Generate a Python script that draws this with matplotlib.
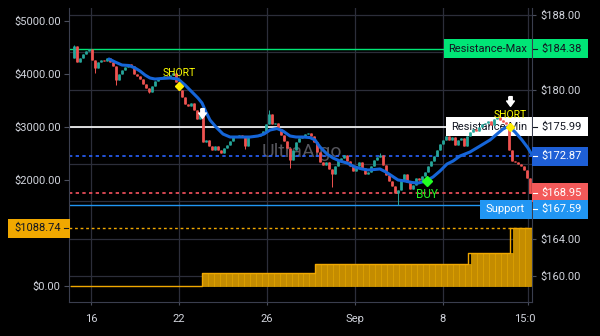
import numpy as np
import matplotlib
matplotlib.use('Agg')
import matplotlib.pyplot as plt
from matplotlib.patches import Rectangle
from matplotlib.lines import Line2D
from matplotlib.transforms import Bbox, TransformedBbox

plt.rcParams['font.family'] = ['Roboto', 'DejaVu Sans']

# closing price of every bar (open = previous close)
close = [183.39, 184.67, 182.96, 183.39, 183.82, 184.14, 184.35, 183.17, 182.31, 182.96,
         183.17, 183.06, 183.39, 182.96, 182.53, 181.03, 181.67, 182.10, 182.42, 182.74,
         182.53, 181.67, 181.45, 181.13, 180.60, 180.17, 179.74, 180.38, 180.92, 181.24,
         181.35, 181.45, 181.24, 181.56, 181.78, 180.81, 179.95, 179.20, 178.45, 178.24,
         178.56, 177.81, 176.84, 177.27, 174.37, 174.59, 173.94, 173.52, 173.94, 173.52,
         173.19, 173.73, 174.05, 174.48, 174.91, 175.02, 175.12, 174.91, 173.94, 174.91,
         175.02, 175.12, 175.02, 175.23, 175.55, 176.30, 177.38, 176.30, 176.41, 175.77,
         175.12, 174.48, 173.73, 172.44, 173.52, 174.37, 174.80, 175.02, 175.23, 175.34,
         175.02, 174.37, 173.30, 172.23, 171.91, 172.23, 171.48, 170.94, 171.80, 172.44,
         172.66, 172.98, 172.33, 171.80, 171.26, 171.80, 172.23, 171.58, 170.94, 171.15,
         171.80, 172.44, 172.76, 172.98, 171.91, 170.83, 170.19, 169.65, 168.90, 169.22,
         170.30, 170.94, 170.08, 169.33, 169.76, 170.51, 170.30, 170.73, 171.15, 171.80,
         172.33, 172.87, 173.52, 174.16, 174.59, 175.02, 174.59, 174.91, 174.05, 174.59,
         174.80, 173.94, 175.02, 175.45, 175.77, 175.55, 175.98, 176.30, 176.41, 176.63,
         176.20, 176.84, 177.06, 176.73, 176.52, 176.30, 173.52, 172.33, 172.23, 172.01,
         171.80, 171.37, 170.51, 168.95]

# wicks that reach past the body
wick_hi = {1: 184.78, 66: 177.81, 103: 173.19}
wick_lo = {8: 181.78, 15: 180.49, 26: 179.63, 58: 173.62, 73: 171.58, 87: 169.54, 109: 167.59}

# moving average (bar index, price)
ma_idx = [12.67, 14.67, 17, 19.33, 21.33, 23, 24.67, 26.33, 28, 30.33,
          33, 35.67, 38, 40.33, 42.33, 43.67, 45, 46.33, 48.33, 50.67,
          53, 56.33, 59.67, 62.33, 64.33, 66.33, 68.67, 70.67, 73, 75,
          77.33, 79.67, 81.33, 83, 85.33, 87.33, 89.67, 92, 94.67, 97,
          99, 101, 103, 105, 107, 109, 111.33, 113.67, 115.67, 118.33,
          120.67, 123, 125.33, 127.33, 129.67, 133, 136.33, 139.67, 142, 144,
          145.33, 146.33, 148, 150.33, 152.33, 153.67]
ma_val = [183.28, 182.96, 182.63, 182.58, 182.31, 181.99, 181.56, 181.24, 181.13, 181.19,
          181.24, 181.13, 180.49, 179.74, 179.09, 178.56, 177.59, 176.73, 175.98, 175.23,
          174.91, 174.91, 174.91, 175.02, 175.23, 175.66, 175.82, 175.55, 175.02, 174.91,
          174.91, 174.85, 174.59, 173.84, 173.09, 172.66, 172.33, 172.12, 171.69, 171.48,
          171.37, 171.42, 171.48, 171.15, 170.73, 170.30, 170.19, 170.03, 169.97, 170.19,
          170.62, 171.26, 172.01, 172.33, 172.87, 173.30, 173.94, 174.59, 175.23, 175.77,
          175.98, 175.93, 175.45, 174.59, 173.73, 172.98]

# closed trades: bar of exit and profit
trade_exit = [43, 81, 132, 146]
trade_pnl = [245.0, 175.0, 208.0, 460.74]

# signals
short_idx = [36, 146.33]
short_mark = [180.38, 175.98]
short_text = [181.78, 177.27]
exit_idx = [43.67, 146.33]
exit_y = [177.48, 178.77]
buy_idx = [118.67]
buy_mark = [170.19]
buy_text = [168.69]

res_max = 184.38
res_min = 175.99
ma_last = 172.87
last_price = 168.95
support = 167.59
equity_now = 1088.74

price_ticks = [160, 164, 168, 172, 176, 180, 184, 188]
price_shown = [160, 164, 180, 188]
equity_ticks = [0, 1000, 2000, 3000, 4000, 5000]
equity_shown = [0, 2000, 3000, 4000, 5000]
tick_pos = [6.67, 36, 65.33, 94.67, 124, 152.33]
tick_lab = ['16', '22', '26', 'Sep', '8', '15:00']

close = np.array(close)
N = len(close)
idx = np.arange(N)
opn = np.concatenate([[close[0]], close[:-1]])
hi = np.maximum(opn, close)
lo = np.minimum(opn, close)
for k, v in wick_hi.items():
    hi[k] = v
for k, v in wick_lo.items():
    lo[k] = v

equity = np.zeros(N)
for e, total in zip(trade_exit, np.cumsum(trade_pnl)):
    equity[e + 1:] = total

TXT = '#d1d4dc'
GRID = '#2c2e3a'
DARK = '#131722'
FS = 8

fig = plt.figure(figsize=(6, 3.36), dpi=100, facecolor='black')
ax_p = fig.add_axes([69 / 600, 34 / 336, 463 / 600, 294 / 336], facecolor='black')
ax_eq = ax_p.twinx()
ax_p.yaxis.tick_right()
ax_eq.yaxis.tick_left()

ax_p.set_xlim(-0.67, 153.67)
ax_p.set_ylim(157.21, 188.75)
ax_eq.set_ylim(-302, 5245)

# grid + axes styling
ax_p.set_axisbelow(True)
ax_p.grid(True, color=GRID, lw=0.9)
for s in ['left', 'right', 'bottom']:
    ax_p.spines[s].set_color('#3a3e4e')
ax_p.spines['top'].set_visible(False)
for s in ax_eq.spines.values():
    s.set_visible(False)

ax_p.set_yticks(price_ticks)
ax_p.set_yticklabels(['${:.2f}'.format(v) if v in price_shown else '' for v in price_ticks])
ax_eq.set_yticks(equity_ticks)
ax_eq.set_yticklabels(['${:.2f}'.format(v) if v in equity_shown else '' for v in equity_ticks])
ax_p.set_xticks(tick_pos)
ax_p.set_xticklabels(tick_lab)
ax_p.tick_params(axis='y', colors='#4a4e5c', labelcolor=TXT, labelsize=FS, length=3, pad=3)
ax_eq.tick_params(axis='y', colors='#4a4e5c', labelcolor=TXT, labelsize=FS, length=3.5, pad=2.5)
ax_p.tick_params(axis='x', colors='#4a4e5c', labelcolor=TXT, labelsize=FS, length=2.5, pad=6)
last_lbl = ax_p.get_xticklabels()[-1]
last_lbl.set_clip_box(TransformedBbox(Bbox([[0, 0], [535 / 600, 1]]), fig.transFigure))
last_lbl.set_clip_on(True)

ax_p.text(0.503, 0.51, 'UltraAlgo', transform=ax_p.transAxes, ha='center', va='center',
          fontsize=14, color='#55555c', zorder=0.8)

# level lines
ax_p.axhline(res_max, color='#00e676', lw=1.0, zorder=1.5)
ax_p.axhline(res_min, color='white', lw=1.2, zorder=1.5)
ax_p.axhline(ma_last, color='#2962ff', lw=1.2, ls=(0, (2, 2)), zorder=1.5)
ax_p.axhline(last_price, color='#f7525f', lw=1.2, ls=(0, (2, 2)), zorder=1.5)
ax_p.axhline(support, color='#2196f3', lw=1.0, zorder=1.5)
ax_eq.axhline(equity_now, color='#f0a800', lw=1.0, ls=(0, (2, 2)), zorder=1.5)

# candles
up = close >= opn
cols = np.where(up, '#26a69a', '#ef5350')
ax_p.vlines(idx, lo, hi, colors=cols, lw=0.7, zorder=2)
ax_p.vlines(idx, opn, close, colors=cols, lw=2.0, zorder=2)

ax_p.plot(ma_idx, ma_val, color='#1565d8', lw=2.2, zorder=3, solid_capstyle='round')

# equity bars
ax_eq.bar(idx[::2] + 0.5, equity[::2], width=2, color='#c48c00', edgecolor='#e3a600',
          lw=0.5, zorder=2)
ax_eq.step(idx, equity, where='mid', color='#f0a800', lw=1.0, zorder=2)

# signals
arrow = [(-0.35, 1), (0.35, 1), (0.35, 0.1), (0.8, 0.1), (0, -1), (-0.8, 0.1), (-0.35, 0.1), (-0.35, 1)]
ax_p.plot(exit_idx, exit_y, ls='none', marker=arrow, ms=7, color='white', zorder=4)
ax_p.plot(short_idx, short_mark, ls='none', marker='D', ms=4.5, color='#ffee00', zorder=4)
for x, y in zip(short_idx, short_text):
    ax_p.text(x, y, 'SHORT', color='#ffff00', fontsize=7.5, ha='center', va='center', zorder=4)
ax_p.plot(buy_idx, buy_mark, ls='none', marker='D', ms=5, color='#22ff22', zorder=4)
for x, y in zip(buy_idx, buy_text):
    ax_p.text(x, y, 'BUY', color='#22ee22', fontsize=8.5, ha='center', va='center', zorder=4)


# value tags on the axes
def ypix(ax, v):
    return ax.transData.transform((0, v))[1]


def tag(x0, x1, yc, face, tcolor, label=None, label_x=None, value=None, value_x=541,
        value_ha='left', dash_x=533):
    h = 19
    y0 = (yc - h / 2) / 336
    if label is not None:
        # inner part sits under the series
        ax_p.add_artist(Rectangle((x0 / 600, y0), (532 - x0) / 600, h / 336, transform=fig.transFigure,
                                  facecolor=face, edgecolor='none', zorder=1.8, clip_on=False))
        ax_p.text(label_x / 600, yc / 336, label, transform=fig.transFigure, color=tcolor,
                  ha='center', va='center', fontsize=FS, zorder=1.9, clip_on=False)
        x0 = 533
    fig.add_artist(Rectangle((x0 / 600, y0), (x1 - x0) / 600, h / 336,
                             transform=fig.transFigure, facecolor=face, edgecolor='none', zorder=5))
    fig.add_artist(Line2D([dash_x / 600, (dash_x + 4) / 600], [yc / 336, yc / 336],
                          transform=fig.transFigure, color=tcolor, lw=0.8, zorder=6))
    fig.text(value_x / 600, yc / 336, value, color=tcolor, ha=value_ha, va='center',
             fontsize=FS, zorder=6)


tag(444, 588, ypix(ax_p, res_max), '#00e676', DARK, 'Resistance-Max', 488, '${:.2f}'.format(res_max))
tag(446, 588, ypix(ax_p, res_min), 'white', DARK, 'Resistance-Min', 489, '${:.2f}'.format(res_min))
tag(532, 588, ypix(ax_p, ma_last), '#1e5fd6', 'white', value='${:.2f}'.format(ma_last))
tag(532, 588, ypix(ax_p, last_price), '#f35a5a', 'white', value='${:.2f}'.format(last_price))
tag(480, 588, ypix(ax_p, support) - 4, '#2196f3', 'white', 'Support', 505, '${:.2f}'.format(support))
tag(8, 70, ypix(ax_eq, equity_now), '#f0a800', DARK, value='${:.2f}'.format(equity_now),
    value_x=61, value_ha='right', dash_x=64)

fig.savefig('out.png', dpi=100, facecolor='black')
